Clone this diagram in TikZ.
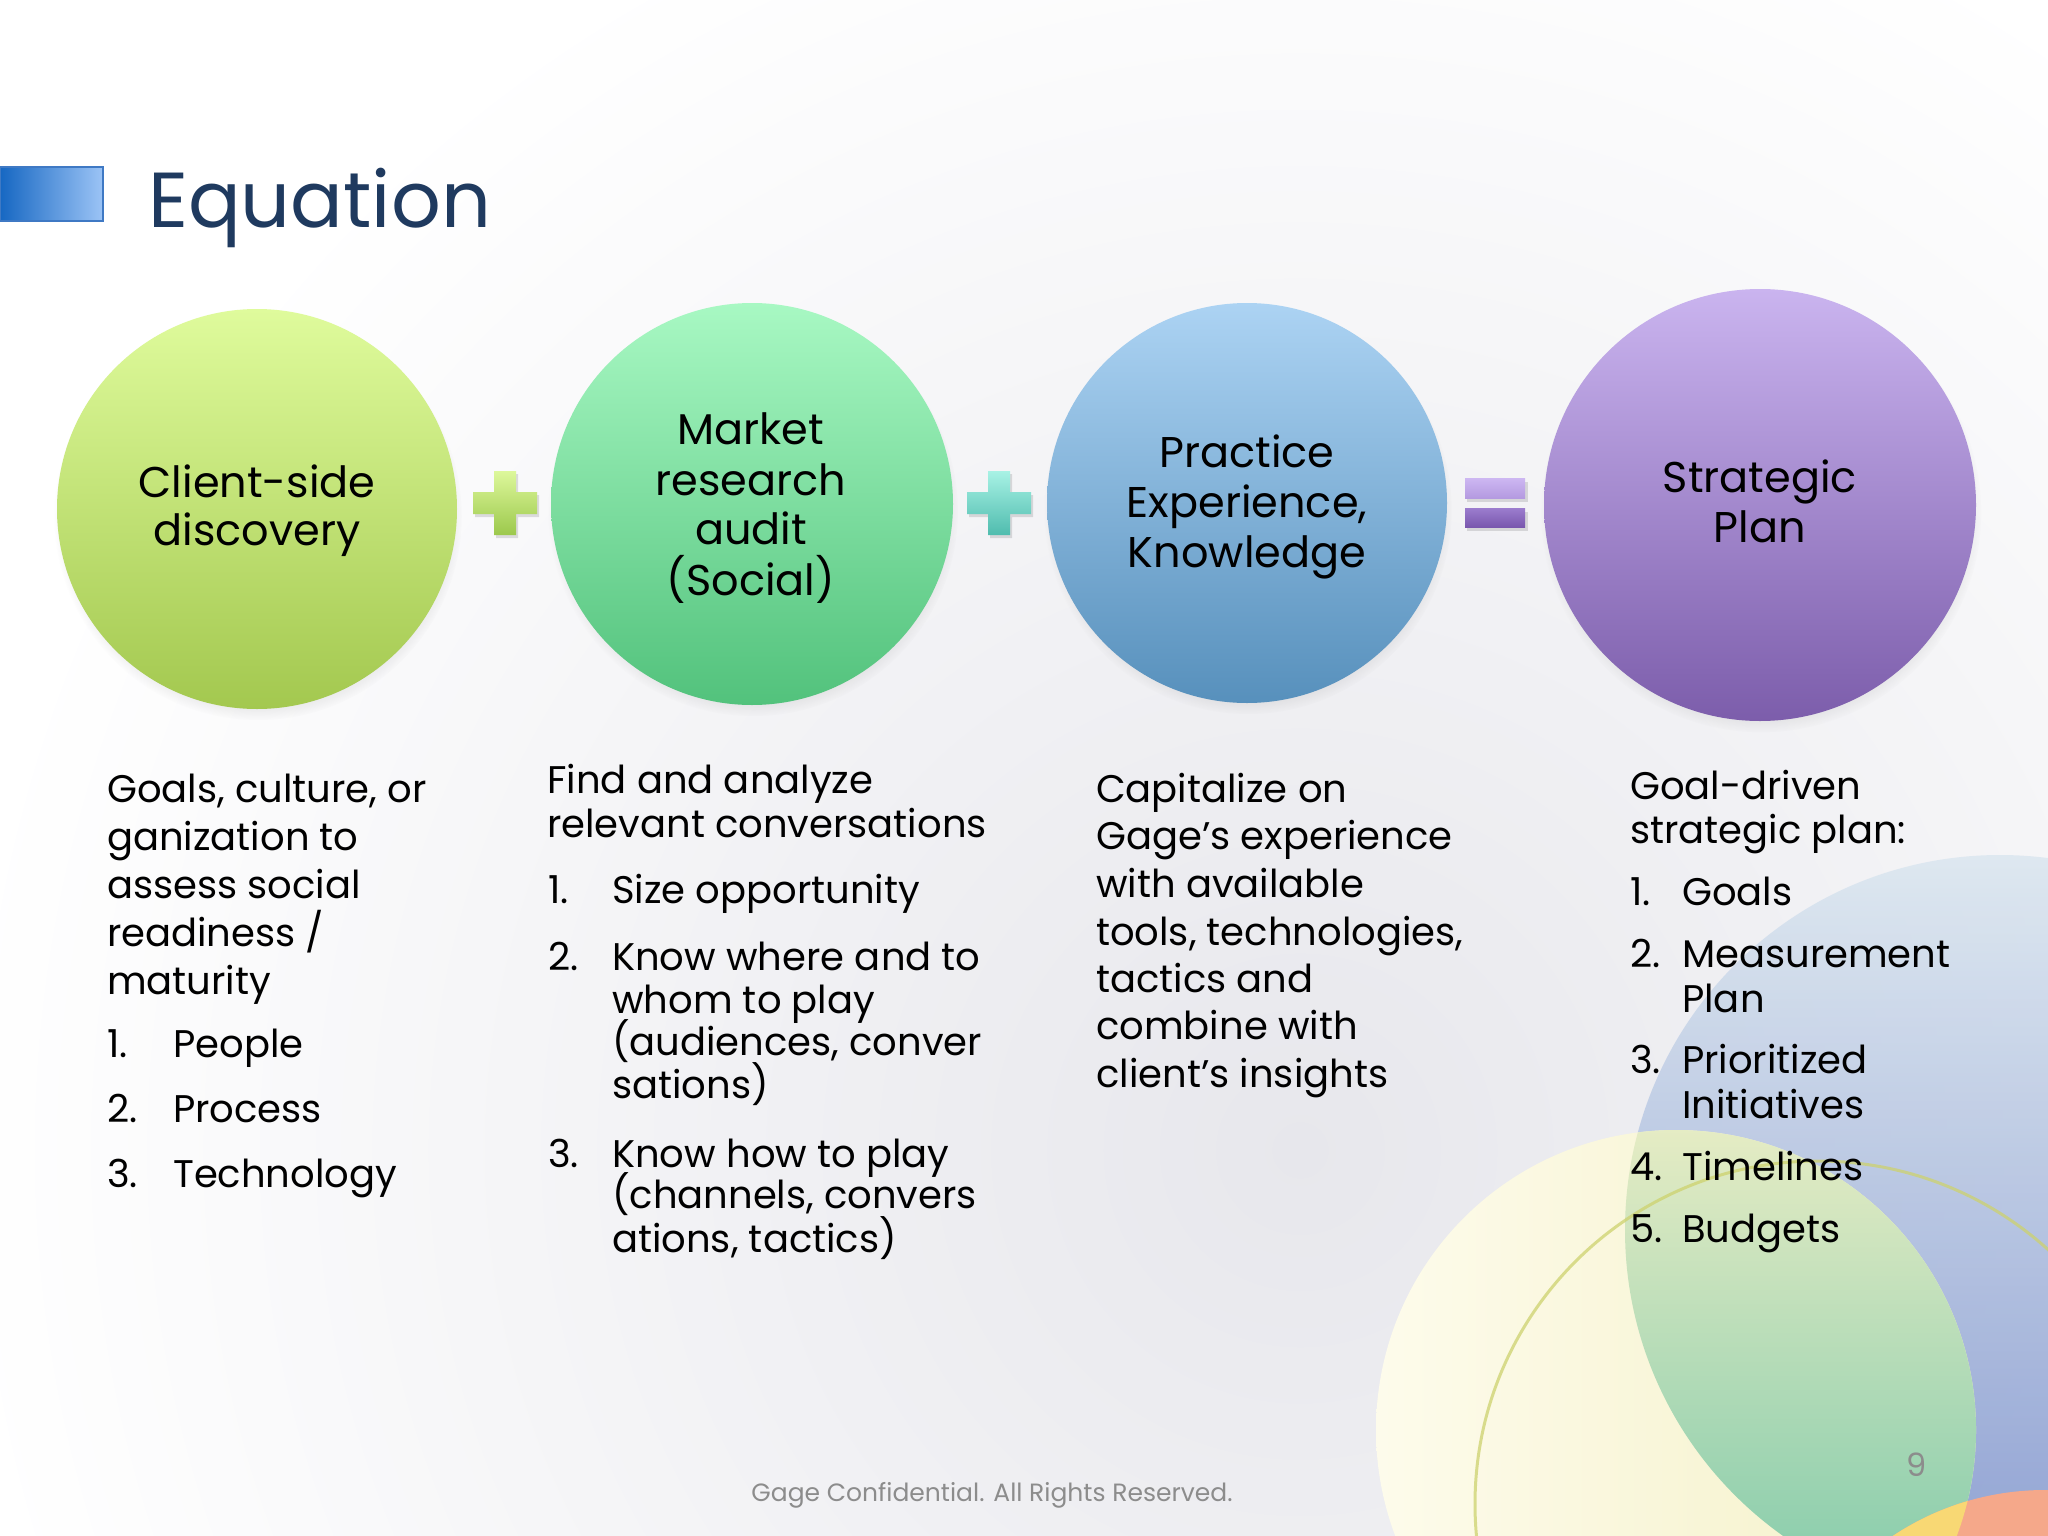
\documentclass[tikz,border=0pt]{standalone}
\usepackage{fontspec}
\setmainfont{Poppins}
\usetikzlibrary{shadows}
\definecolor{titlecol}{HTML}{1F3A5F}
\definecolor{bgmid}{HTML}{E7E7EC}
\definecolor{cAtop}{HTML}{DFFB9C}
\definecolor{cAbot}{HTML}{A3C84F}
\definecolor{cBtop}{HTML}{A8F8C3}
\definecolor{cBbot}{HTML}{52C27C}
\definecolor{cCtop}{HTML}{ACD3F3}
\definecolor{cCbot}{HTML}{5790BC}
\definecolor{cDtop}{HTML}{CAB4EF}
\definecolor{cDbot}{HTML}{7C5DAB}
\definecolor{pAtop}{HTML}{DDF89B}
\definecolor{pAbot}{HTML}{9CC84C}
\definecolor{pBtop}{HTML}{A8F2E5}
\definecolor{pBbot}{HTML}{4FBCAE}
\definecolor{eqAtop}{HTML}{CDB7F2}
\definecolor{eqAbot}{HTML}{B49AE0}
\definecolor{eqBtop}{HTML}{9C7DCE}
\definecolor{eqBbot}{HTML}{7957AE}
\definecolor{decoBlueTop}{HTML}{DCE7F0}
\definecolor{decoBlueBot}{HTML}{8296CE}
\definecolor{decoYellow}{HTML}{FCF9DE}
\definecolor{decoYellowR}{HTML}{F4F0C6}
\definecolor{overTop}{HTML}{E6ECC4}
\definecolor{overBot}{HTML}{8FCFAE}
\definecolor{ringcol}{HTML}{CDD26E}
\definecolor{salmon}{HTML}{F5A88A}
\definecolor{cornerYellow}{HTML}{F8D874}
\definecolor{footgray}{HTML}{8C8C8C}
\definecolor{sqLeft}{HTML}{1667C2}
\definecolor{sqRight}{HTML}{9CC4F6}
\definecolor{sqEdge}{HTML}{3F79C4}
\begin{document}
\begin{tikzpicture}[x=1pt,y=-1pt,
  bubble/.style={circle, inner sep=0pt, minimum size=#1,
    circular drop shadow={shadow xshift=1pt, shadow yshift=-7pt, shadow scale=1.02, opacity=0.3}},
  ctext/.style={anchor=base, inner sep=0pt, font=\fontsize{43}{50}\selectfont},
  body/.style={anchor=base west, inner sep=0pt, font=\fontsize{38.5}{44}\selectfont},
  pics/plussign/.style 2 args={code={
    \fill[black, opacity=0.12] (-9,-29) -- (13,-29) -- (13,-8) -- (34,-8) -- (34,14) -- (13,14) -- (13,35) -- (-9,35) -- (-9,14) -- (-30,14) -- (-30,-8) -- (-9,-8) -- cycle;
    \shade[top color=#1, bottom color=#2] (-11,-32) -- (11,-32) -- (11,-11) -- (32,-11) -- (32,11) -- (11,11) -- (11,32) -- (-11,32) -- (-11,11) -- (-32,11) -- (-32,-11) -- (-11,-11) -- cycle;
  }}
]
\useasboundingbox (0,0) rectangle (2048,1536);
\begin{scope}
  \clip (0,0) rectangle (2048,1536);
  % background
  \fill[white] (0,0) rectangle (2048,1536);
  \shade[inner color=bgmid, outer color=white] (1300,1150) circle (1350pt);
  % decorative circles bottom right
  \shade[top color=decoBlueTop, bottom color=decoBlueBot, opacity=0.9] (2000,1230) circle (375pt);
  \shade[left color=decoYellow!60!white, right color=decoYellowR] (1676,1430) circle (300pt);
  \begin{scope}
    \clip (1676,1430) circle (300pt);
    \clip (2000,1230) circle (375pt);
    \shade[top color=overTop, bottom color=overBot] (1370,1125) rectangle (1990,1540);
  \end{scope}
  \draw[ringcol, line width=3pt, opacity=0.75] (1818,1504) circle (343pt);
  \fill[salmon] (2045,1765) circle (275pt);
  \begin{scope}
    \clip (1676,1430) circle (300pt);
    \fill[cornerYellow] (2045,1765) circle (275pt);
  \end{scope}
\end{scope}

% title
\shade[left color=sqLeft, right color=sqRight, draw=sqEdge, line width=2pt] (0,167) rectangle (103,221);
\node (title) [anchor=base west, inner sep=0pt, font=\fontsize{78}{90}\selectfont, text=titlecol] at (148,227) {Equation};

% bubbles
\node (c1) [bubble=400pt, top color=cAtop, bottom color=cAbot] at (257,509) {};
\node (c2) [bubble=402pt, top color=cBtop, bottom color=cBbot] at (752,504) {};
\node (c3) [bubble=400pt, top color=cCtop, bottom color=cCbot] at (1247,503) {};
\node (c4) [bubble=432pt, top color=cDtop, bottom color=cDbot] at (1760,505) {};

\pic at (505,503) {plussign={pAtop}{pAbot}};
\pic at (999,503) {plussign={pBtop}{pBbot}};
% equals sign
\fill[black, opacity=0.12] (1467,482) rectangle (1528,502);
\fill[black, opacity=0.12] (1467,512) rectangle (1528,531);
\shade[top color=eqAtop, bottom color=eqAbot] (1465,478) rectangle (1525,498);
\shade[top color=eqBtop, bottom color=eqBbot] (1465,508) rectangle (1525,527);

% bubble texts
\node (c1a) [ctext] at (257,497) {Client-side};
\node (c1b) [ctext] at (257,545) {discovery};
\node (c2a) [ctext] at (751,444) {Market};
\node (c2b) [ctext] at (751,495) {research};
\node (c2c) [ctext] at (751,544) {audit};
\node (c2d) [ctext] at (751,595) {(Social)};
\node (c3a) [ctext] at (1247,467) {Practice};
\node (c3b) [ctext] at (1247,517) {Experience,};
\node (c3c) [ctext] at (1247,567) {Knowledge};
\node (c4a) [ctext] at (1760,492) {Strategic};
\node (c4b) [ctext] at (1760,542) {Plan};

% column 1
\node (a1) [body] at (107,802) {Goals, culture, or};
\node (a2) [body] at (107,850) {ganization to};
\node (a3) [body] at (107,898) {assess social};
\node (a4) [body] at (107,946) {readiness /};
\node (a5) [body] at (107,994) {maturity};
\node (a6n) [body] at (107,1057) {1.};
\node (a6) [body] at (173,1057) {People};
\node (a7n) [body] at (107,1122) {2.};
\node (a7) [body] at (173,1122) {Process};
\node (a8n) [body] at (107,1187) {3.};
\node (a8) [body] at (173,1187) {Technology};

% column 2
\node (b1) [body] at (547,793) {Find and analyze};
\node (b2) [body] at (547,837) {relevant conversations};
\node (b3n) [body] at (548,903) {1.};
\node (b3) [body] at (612,903) {Size opportunity};
\node (b4n) [body] at (548,970) {2.};
\node (b4) [body] at (612,970) {Know where and to};
\node (b5) [body] at (612,1013) {whom to play};
\node (b6) [body] at (612,1055) {(audiences, conver};
\node (b7) [body] at (612,1098) {sations)};
\node (b8n) [body] at (548,1167) {3.};
\node (b8) [body] at (612,1167) {Know how to play};
\node (b9) [body] at (612,1208) {(channels, convers};
\node (b10) [body] at (612,1252) {ations, tactics)};

% column 3
\node (d1) [body] at (1096,802) {Capitalize on};
\node (d2) [body] at (1096,849) {Gage’s experience};
\node (d3) [body] at (1096,897) {with available};
\node (d4) [body] at (1096,945) {tools, technologies,};
\node (d5) [body] at (1096,992) {tactics and};
\node (d6) [body] at (1096,1039) {combine with};
\node (d7) [body] at (1096,1087) {client’s insights};

% column 4
\node (e1) [body] at (1630,799) {Goal-driven};
\node (e2) [body] at (1630,843) {strategic plan:};
\node (e3n) [body] at (1630,905) {1.};
\node (e3) [body] at (1682,905) {Goals};
\node (e4n) [body] at (1630,967) {2.};
\node (e4) [body] at (1682,967) {Measurement};
\node (e5) [body] at (1682,1012) {Plan};
\node (e6n) [body] at (1630,1073) {3.};
\node (e6) [body] at (1682,1073) {Prioritized};
\node (e7) [body] at (1682,1118) {Initiatives};
\node (e8n) [body] at (1630,1180) {4.};
\node (e8) [body] at (1682,1180) {Timelines};
\node (e9n) [body] at (1630,1242) {5.};
\node (e9) [body] at (1682,1242) {Budgets};

% footer
\node (foot) [anchor=base, inner sep=0pt, font=\fontsize{25}{30}\selectfont, text=footgray] at (992,1501) {Gage Confidential. All Rights Reserved.};
\node (pnum) [anchor=base, inner sep=0pt, font=\fontsize{32}{36}\selectfont, text=footgray] at (1917,1476) {9};
\end{tikzpicture}
\end{document}
